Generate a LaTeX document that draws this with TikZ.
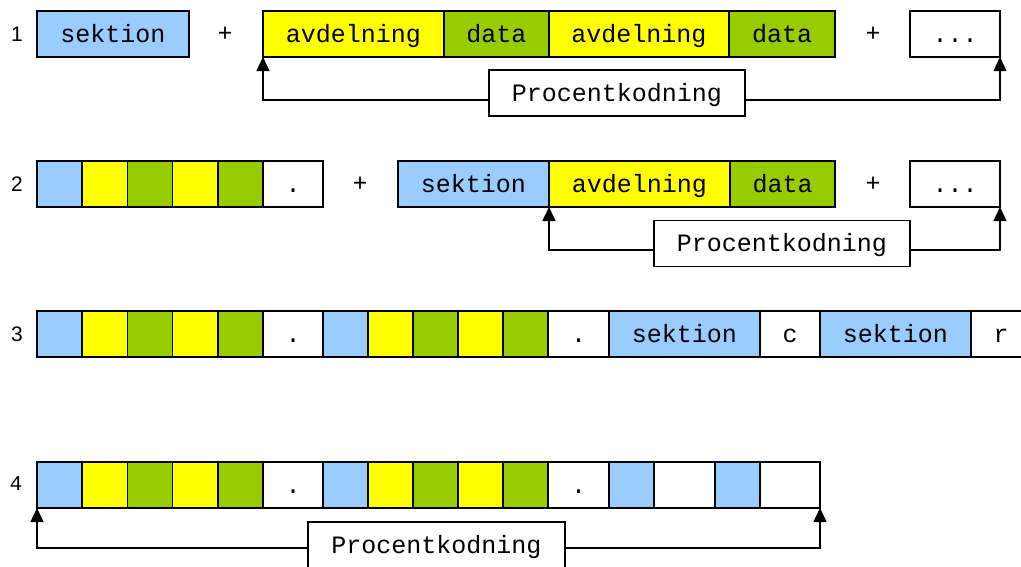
\documentclass[tikz,border=0pt]{standalone}
\usepackage{fontspec}
\usepackage{tikz}
\newfontfamily\monofont{Liberation Mono}
\newfontfamily\rowfont{Liberation Sans}
\definecolor{sekblue}{RGB}{153, 204, 255}
\definecolor{avdyellow}{RGB}{255, 255, 0}
\definecolor{datgreen}{RGB}{153, 204, 0}
\usetikzlibrary{
  arrows.meta,
  positioning,
}
\tikzset{
  cell/.style={draw, line width=1.5pt, inner sep=0pt, outer sep=0pt, minimum height=46pt,
    anchor=north west, font=\monofont\fontsize{25}{30}\selectfont,
    text height=17pt, text depth=1pt},
  sek/.style={cell, fill=sekblue},
  avd/.style={cell, fill=avdyellow},
  dat/.style={cell, fill=datgreen},
  blank/.style={cell, fill=white},
  plus/.style={font=\monofont\fontsize{25}{30}\selectfont},
  rownum/.style={font=\rowfont\fontsize{21}{24}\selectfont},
  pkbox/.style={draw, fill=white, line width=1.5pt, inner sep=0pt, outer sep=0pt,
    minimum width=256pt, minimum height=46pt,
    font=\monofont\fontsize{25}{30}\selectfont, text height=17pt, text depth=1pt},
  conn/.style={line width=1.5pt,
    {Triangle[width=13pt,length=14pt]}-{Triangle[width=13pt,length=14pt]}},
}
\begin{document}
\begin{tikzpicture}[x=1pt, y=-1pt]
  \clip (0,0) rectangle (1021,566);
  \fill [white] (0,0) rectangle (1021,566);

  % rad 1
  \node [rownum] (n1) at (17,34) {1};
  \node [sek, minimum width=152pt] (r1sek) at (37,11) {sektion};
  \node [plus] (r1plusa) at (225,34) {+};
  \node [avd, minimum width=181pt] (r1avda) at (263,11) {avdelning};
  \node [dat, minimum width=105pt, right=0pt of r1avda] (r1data) {data};
  \node [avd, minimum width=180pt, right=0pt of r1data] (r1avdb) {avdelning};
  \node [dat, minimum width=106pt, right=0pt of r1avdb] (r1datb) {data};
  \node [plus] (r1plusb) at (873,34) {+};
  \node [blank, minimum width=90pt] (r1dots) at (910,11) {...};
  \draw [conn] (r1avda.south west) -- ++(0,43) -| (r1dots.south east);
  \node [pkbox] (r1pk) at (617,93) {Procentkodning};

  % rad 2
  \node [rownum] (n2) at (17,184) {2};
  \foreach \c [count=\i] in {sekblue,avdyellow,datgreen,avdyellow,datgreen}
    \node [cell, fill=\c, minimum width=45.2pt] (r2c\i) at ({37+45.2*(\i-1)},161) {};
  \node [blank, minimum width=60pt] (r2dot) at (263,161) {.};
  \node [plus] (r2plusa) at (360,184) {+};
  \node [sek, minimum width=151pt] (r2sek) at (398,161) {sektion};
  \node [avd, minimum width=181pt, right=0pt of r2sek] (r2avd) {avdelning};
  \node [dat, minimum width=105pt, right=0pt of r2avd] (r2dat) {data};
  \node [plus] (r2plusb) at (873,184) {+};
  \node [blank, minimum width=90pt] (r2dots) at (910,161) {...};
  \draw [conn] (r2sek.south east) -- ++(0,43) -| (r2dots.south east);
  \node [pkbox] (r2pk) at (782,243.5) {Procentkodning};

  % rad 3
  \node [rownum] (n3) at (17,334) {3};
  \foreach \c [count=\i] in {sekblue,avdyellow,datgreen,avdyellow,datgreen}
    \node [cell, fill=\c, minimum width=45.2pt] (r3a\i) at ({37+45.2*(\i-1)},311) {};
  \node [blank, minimum width=60pt] (r3dota) at (263,311) {.};
  \foreach \c [count=\i] in {sekblue,avdyellow,datgreen,avdyellow,datgreen}
    \node [cell, fill=\c, minimum width=45pt] (r3b\i) at ({323+45*(\i-1)},311) {};
  \node [blank, minimum width=61pt] (r3dotb) at (548,311) {.};
  \node [sek, minimum width=151pt, right=0pt of r3dotb] (r3seka) {sektion};
  \node [blank, minimum width=60pt, right=0pt of r3seka] (r3c) {c};
  \node [sek, minimum width=151pt, right=0pt of r3c] (r3sekb) {sektion};
  \node [blank, minimum width=60pt, right=0pt of r3sekb] (r3r) {r};

  % rad 4
  \node [font=\monofont\fontsize{21}{24}\selectfont] (n4) at (16,484) {4};
  \foreach \c [count=\i] in {sekblue,avdyellow,datgreen,avdyellow,datgreen}
    \node [cell, fill=\c, minimum width=45.2pt] (r4a\i) at ({37+45.2*(\i-1)},462) {};
  \node [blank, minimum width=60pt] (r4dota) at (263,462) {.};
  \foreach \c [count=\i] in {sekblue,avdyellow,datgreen,avdyellow,datgreen}
    \node [cell, fill=\c, minimum width=45pt] (r4b\i) at ({323+45*(\i-1)},462) {};
  \node [blank, minimum width=61pt] (r4dotb) at (548,462) {.};
  \node [sek, minimum width=45pt, right=0pt of r4dotb] (r4sa) {};
  \node [blank, minimum width=61pt, right=0pt of r4sa] (r4wa) {};
  \node [sek, minimum width=45pt, right=0pt of r4wa] (r4sb) {};
  \node [blank, minimum width=60pt, right=0pt of r4sb] (r4wb) {};
  \draw [conn] (r4a1.south west) -- ++(0,40) -| (r4wb.south east);
  \node [pkbox, minimum width=257pt] (r4pk) at (436.5,545) {Procentkodning};
\end{tikzpicture}
\end{document}
